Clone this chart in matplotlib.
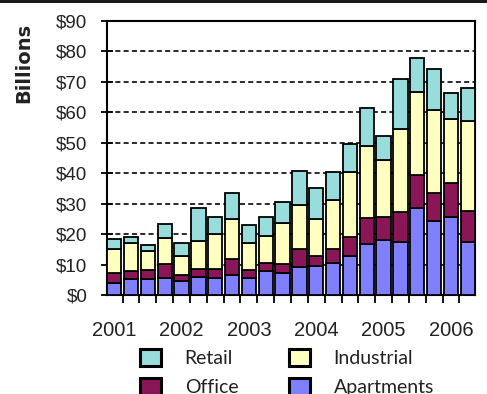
import matplotlib
matplotlib.use("Agg")
import matplotlib.pyplot as plt
from matplotlib.patches import Rectangle, Patch
import numpy as np

quarters = ["2001Q1","2001Q2","2001Q3","2001Q4","2002Q1","2002Q2","2002Q3","2002Q4",
            "2003Q1","2003Q2","2003Q3","2003Q4","2004Q1","2004Q2","2004Q3","2004Q4",
            "2005Q1","2005Q2","2005Q3","2005Q4","2006Q1","2006Q2"]
apartments = [3.8, 5.3, 5.3, 5.5, 4.7, 6.0, 5.5, 6.6, 5.5, 7.9, 7.3,
              9.3, 9.5, 10.6, 12.8, 16.8, 18.1, 17.5, 28.5, 24.3, 25.7, 17.5]
office = [3.5, 2.6, 2.9, 4.7, 1.9, 2.4, 2.9, 5.1, 2.7, 2.7, 2.9,
          5.7, 3.4, 4.4, 6.4, 8.4, 7.4, 9.7, 10.9, 9.1, 11.2, 10.2]
industrial = [7.7, 9.1, 6.3, 8.6, 6.2, 9.4, 11.6, 13.2, 8.8, 8.8, 13.6,
              14.6, 12.1, 16.2, 21.3, 23.8, 18.8, 27.2, 27.4, 27.4, 20.9, 29.6]
retail = [3.3, 2.2, 1.9, 4.4, 4.2, 10.7, 5.7, 8.5, 6.0, 6.3, 6.9,
          11.2, 10.3, 9.3, 9.1, 12.3, 8.0, 16.6, 11.0, 13.3, 8.5, 10.8]
year_labels = ["2001", "2002", "2003", "2004", "2005", "2006"]
y_values = [0, 10, 20, 30, 40, 50, 60, 70, 80, 90]
y_labels = ["$0", "$10", "$20", "$30", "$40", "$50", "$60", "$70", "$80", "$90"]

c_apt = "#8080ff"
c_off = "#8a1658"
c_ind = "#ffffbf"
c_ret = "#99dcdc"

W, H = 487, 394
fig = plt.figure(figsize=(W/100, H/100), dpi=100)
ax = fig.add_axes([107/W, 1-295/H, (475-107)/W, (295-21)/H])

x = np.arange(len(quarters))
bw = 0.85
ekw = dict(edgecolor="black", linewidth=1.3, width=bw, zorder=3)
a = np.array(apartments); o = np.array(office); i_ = np.array(industrial); r = np.array(retail)
ax.bar(x, a, color=c_apt, **ekw)
ax.bar(x, o, bottom=a, color=c_off, **ekw)
ax.bar(x, i_, bottom=a+o, color=c_ind, **ekw)
ax.bar(x, r, bottom=a+o+i_, color=c_ret, **ekw)

ax.set_xlim(-bw/2, len(quarters)-1+bw/2)
ax.set_ylim(0, 90)

for yv in y_values[1:-1]:
    ax.axhline(yv, color="#1a1a1a", lw=1.3, ls=(0, (2.8, 1.8)), zorder=1)

ax.set_yticks(y_values)
ax.set_yticklabels(y_labels, family="Liberation Sans", fontsize=13.5, color="#222222")
ax.tick_params(axis="y", direction="inout", length=8, width=1.3, pad=10)

year_pos = [x[k] for k, q in enumerate(quarters) if q.endswith("Q1")]
ax.set_xticks(year_pos)
ax.set_xticklabels(year_labels, family="Liberation Sans", fontsize=14.5, color="#222222")
ax.tick_params(axis="x", which="major", length=0, pad=19)
bounds = list((x[:-1] + x[1:]) / 2)
ax.set_xticks(bounds, minor=True)
ax.tick_params(axis="x", which="minor", direction="out", length=6, width=1.3)

for s in ax.spines.values():
    s.set_linewidth(1.5)
    s.set_color("black")

fig.text(24/W, 1-63/H, "Billions", rotation=90, ha="center", va="center",
         family="DejaVu Sans", fontweight="bold", fontsize=14, color="#222222")

handles = [Patch(facecolor=c_ret, edgecolor="black", linewidth=2.2, label="Retail"),
           Patch(facecolor=c_off, edgecolor="black", linewidth=2.2, label="Office"),
           Patch(facecolor=c_ind, edgecolor="black", linewidth=2.2, label="Industrial"),
           Patch(facecolor=c_apt, edgecolor="black", linewidth=2.2, label="Apartments")]
leg = fig.legend(handles=handles, ncol=2, loc="upper left",
                 bbox_to_anchor=(140/W, 1-349/H), frameon=False,
                 prop={"family": "Lato", "size": 14}, handlelength=1.1, handleheight=1.0,
                 handletextpad=1.2, columnspacing=2.6, labelspacing=0.55,
                 borderpad=0, borderaxespad=0)
for t in leg.get_texts():
    t.set_color("#222222")

fig.patches.append(Rectangle((0, 1-3/H), 1, 3/H, transform=fig.transFigure,
                             facecolor="#1a1a1a", edgecolor="none"))

fig.savefig("out.png", dpi=100)
